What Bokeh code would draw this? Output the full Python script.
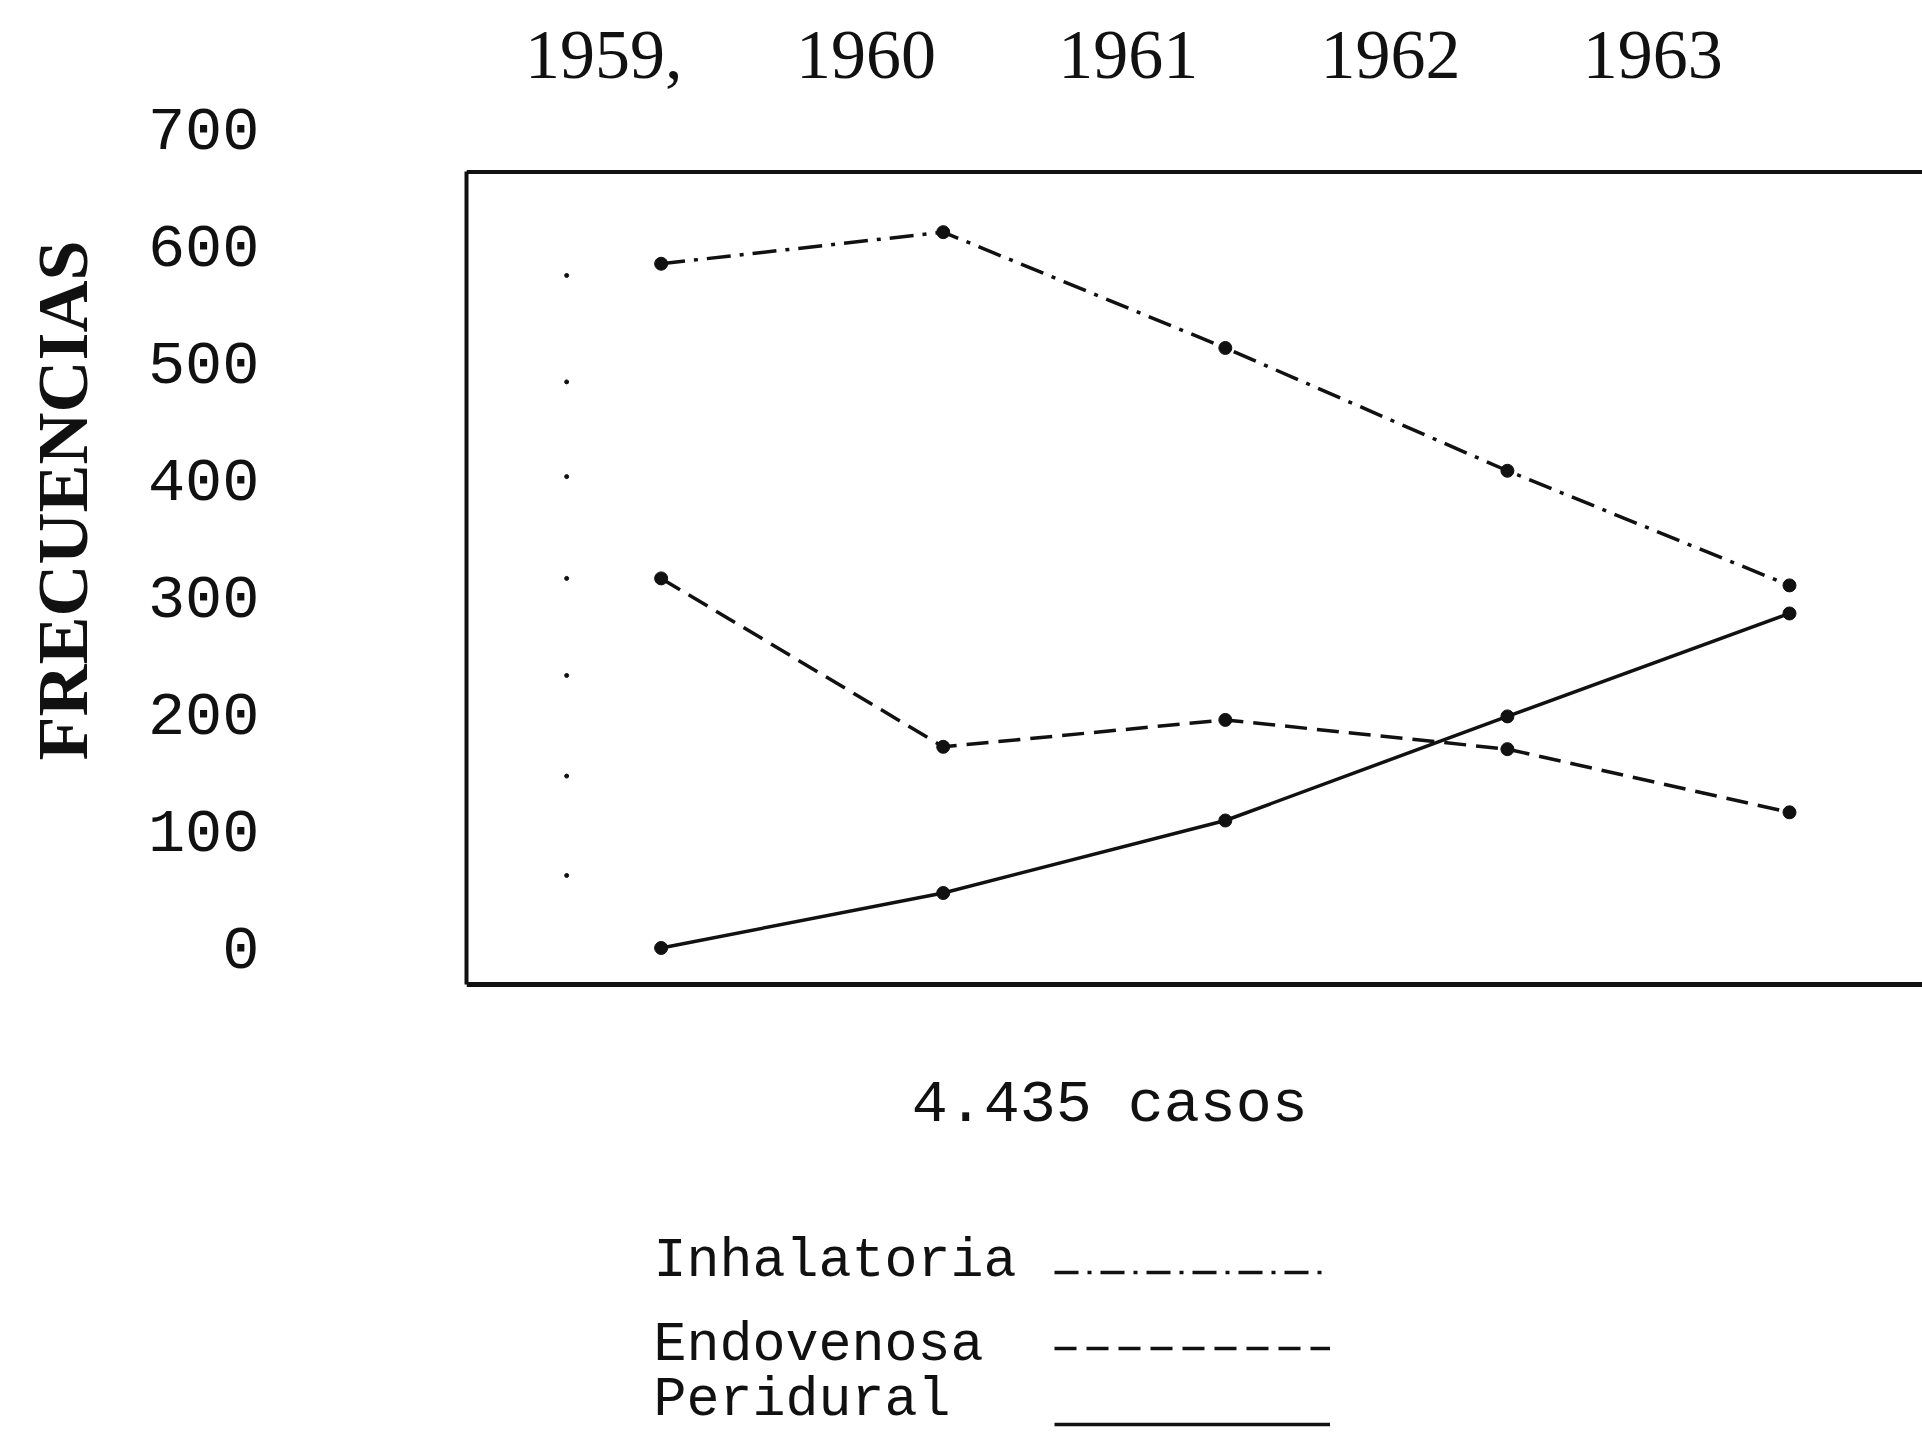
from bokeh.plotting import figure
from bokeh.layouts import row
from bokeh.models import (Range1d, LinearAxis, FixedTicker, Span, Label,
                          Legend, LegendItem, Title)
from bokeh.embed import file_html
from bokeh.resources import INLINE

# ---------------- data ----------------
years = [1959, 1960, 1961, 1962, 1963]
year_labels = ["1959,", "1960", "1961", "1962", "1963"]
inhalatoria = [585, 612, 513, 408, 310]
endovenosa = [316, 172, 195, 170, 116]
peridural = [0, 47, 109, 198, 286]
y_ticks = [0, 100, 200, 300, 400, 500, 600, 700]
margin_dots = [575, 484, 403, 316, 233, 147, 62]
margin_dot_year = 1958.665
series_names = ["Inhalatoria", "Endovenosa", "Peridural"]
caption = "4.435 casos"
y_title = "FRECUENCIAS"

# ---------------- layout constants ----------------
BOX_TOP = 663.5
BOX_BOTTOM = -31.2
INK = "#111111"
TITLE_W = 140          # width of the narrow strip that carries the vertical title
FULL_W, FULL_H = 1922, 1435
TOP_B = 123            # same top / bottom borders in both figures (frames align)

# ---- narrow strip on the left: only the vertical title ----
t = figure(width=TITLE_W, height=FULL_H, output_backend="svg", toolbar_location=None,
           x_range=Range1d(0, 1), y_range=Range1d(0, 1),
           x_axis_location=None, y_axis_location=None,
           min_border_left=112, min_border_right=0, min_border_top=TOP_B,
           min_border_bottom=0, background_fill_color="white",
           border_fill_color="white")
t.outline_line_color = None
for g in t.grid:
    g.visible = False
t.add_layout(Title(text=y_title, align="left", offset=675, standoff=20,
                   text_font="Liberation Serif", text_font_style="bold",
                   text_font_size="72px", text_color=INK), "left")

# ---- main chart ----
p = figure(width=FULL_W - TITLE_W, height=FULL_H, output_backend="svg",
           toolbar_location=None,
           x_range=Range1d(1958.310, 1963.4715), y_range=Range1d(-416.8, 704.9),
           x_axis_location=None, y_axis_location=None,
           min_border_left=466 - TITLE_W, min_border_right=0, min_border_top=TOP_B,
           min_border_bottom=0, background_fill_color="white",
           border_fill_color="white")
p.outline_line_color = None
for g in p.grid:
    g.visible = False

# year labels (top axis, own range)
p.extra_x_ranges = {"lbl": Range1d(1958.477, 1964.028)}
top_ax = LinearAxis(x_range_name="lbl", ticker=FixedTicker(ticks=years),
                    major_label_overrides={y: l for y, l in zip(years, year_labels)})
top_ax.axis_line_color = None
top_ax.major_tick_line_color = None
top_ax.minor_tick_line_color = None
top_ax.major_label_text_font = "Liberation Serif"
top_ax.major_label_text_font_size = "70px"
top_ax.major_label_text_color = INK
top_ax.major_label_standoff = 40
p.add_layout(top_ax, "above")

# left border of the box
border_ax = LinearAxis(ticker=FixedTicker(ticks=[]), bounds=(BOX_BOTTOM, BOX_TOP))
border_ax.axis_line_width = 4
border_ax.axis_line_color = INK
border_ax.major_tick_line_color = None
border_ax.minor_tick_line_color = None
border_ax.major_label_text_font_size = "0px"
p.add_layout(border_ax, "left")

# value labels
lbl_ax = LinearAxis(ticker=FixedTicker(ticks=y_ticks))
lbl_ax.axis_line_color = None
lbl_ax.major_tick_line_color = None
lbl_ax.minor_tick_line_color = None
lbl_ax.major_label_text_font = "Liberation Mono"
lbl_ax.major_label_text_font_size = "62px"
lbl_ax.major_label_text_color = INK
lbl_ax.major_label_standoff = 201
p.add_layout(lbl_ax, "left")

# top and bottom border of the box
p.add_layout(Span(location=BOX_TOP, dimension="width", line_color=INK, line_width=4))
p.add_layout(Span(location=BOX_BOTTOM, dimension="width", line_color=INK, line_width=5))

# small dots along the left inside of the box
p.scatter([margin_dot_year] * len(margin_dots), margin_dots, size=4, color=INK)

# series
r_inh = p.line(years, inhalatoria, line_width=3.5, line_color=INK, line_dash="24 9 4 9")
p.scatter(years, inhalatoria, size=13, color=INK)
r_end = p.line(years, endovenosa, line_width=3.5, line_color=INK, line_dash="22 10")
p.scatter(years, endovenosa, size=13, color=INK)
r_per = p.line(years, peridural, line_width=3.5, line_color=INK)
p.scatter(years, peridural, size=13, color=INK)

# legend: line samples through Bokeh's legend, text to their left
legend = Legend(items=[LegendItem(label=" ", renderers=[r]) for r in (r_inh, r_end, r_per)],
                location=(588, -4), padding=0, margin=0, spacing=46,
                glyph_width=276, glyph_height=30, label_height=30, label_width=1,
                label_standoff=0, border_line_color=None, background_fill_alpha=0,
                label_text_font_size="1px")
p.add_layout(legend, "center")

for name, ly in zip(series_names, [-268.0, -339.8, -386.8]):
    p.add_layout(Label(x=1958.973, y=ly, text=name, text_align="left",
                       text_baseline="middle", text_font="Liberation Mono",
                       text_font_size="55px", text_color=INK))

p.add_layout(Label(x=1960.590, y=-134.2, text=caption, text_align="center",
                   text_baseline="middle", text_font="Liberation Mono",
                   text_font_size="60px", text_color=INK))

layout = row(t, p, spacing=0)
open("out.html", "w").write(file_html(layout, INLINE))
